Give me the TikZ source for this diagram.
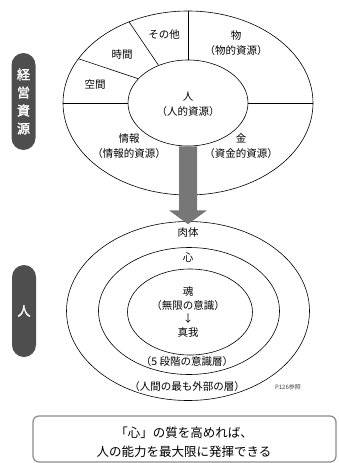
\documentclass[tikz,border=0pt]{standalone}
\usepackage{fontspec}
\setmainfont{Noto Sans CJK JP}
\newfontfamily\jpbold{Noto Sans CJK JP}[FakeBold=2]
\usetikzlibrary{shapes.geometric,calc}
\definecolor{pillgray}{HTML}{4E4E4E}
\definecolor{arrowgray}{HTML}{777777}
\definecolor{boxgray}{HTML}{8A8A8A}
\begin{document}
\begin{tikzpicture}[x=1pt,y=-1pt,
  ring/.style={draw=black, line width=0.6pt, ellipse, inner sep=0pt},
  divline/.style={draw=black, line width=0.6pt},
  lbl/.style={font=\fontsize{10.5}{15}\selectfont, align=center, inner sep=0pt},
  lblb/.style={font=\fontsize{10.5}{13.7}\selectfont, align=center, inner sep=0pt},
  pill/.style={fill=pillgray, rounded corners=12pt, inner sep=0pt, minimum width=24pt},
  pilltext/.style={text=white, font=\jpbold\fontsize{13}{18}\selectfont, align=center, inner sep=0pt},
  msgbox/.style={draw=boxgray, line width=1.2pt, rounded corners=6pt, minimum width=303pt, minimum height=46pt, inner sep=0pt}]
\useasboundingbox (0,0) rectangle (338,463);

% ---- top: management resources ----
\node[ring, minimum width=250pt, minimum height=184pt] (outerT) at (188,103) {};
\node[ring, minimum width=120pt, minimum height=86pt] (innerT) at (188,103) {};
\draw[divline] (outerT.north) -- (innerT.north);
\draw[divline] (outerT.126) -- (innerT.128);
\draw[divline] (outerT.158) -- (innerT.154);
\draw[divline] (outerT.west) -- (innerT.west);
\draw[divline] (outerT.east) -- (innerT.east);

\node[lbl] (sonota) at (164,35) {その他};
\node[lbl] (jikan) at (122,55) {時間};
\node[lbl] (kukan) at (95,85) {空間};
\node[lbl] (mono) at (236,43) {物\\（物的資源）};
\node[lbl] (hito) at (188,104) {人\\（人的資源）};
\node[lbl] (joho) at (129,146) {情報\\（情報的資源）};
\node[lbl] (kane) at (241,146) {金\\（資金的資源）};

\node[pill, minimum height=97pt] (pill1) at (23.5,101.5) {};
\node[pilltext] (pill1t) at (pill1.center) {経\\営\\資\\源};

% ---- bottom: person ----
\node[ring, minimum width=243pt, minimum height=179pt] (outerB) at (188,311) {};
\node[ring, minimum width=181pt, minimum height=127pt] (middleB) at (189,311) {};
\node[ring, minimum width=125pt, minimum height=86pt] (innerB) at (190,312) {};

% arrow
\fill[arrowgray] ($(innerT.south)+(-9,0)$) -- ($(innerT.south)+(-9,64)$)
  -- ($(innerT.south)+(-19,64)$) -- ($(outerB.north)+(0,3)$)
  -- ($(innerT.south)+(19,64)$) -- ($(innerT.south)+(9,64)$)
  -- ($(innerT.south)+(9,0)$) -- cycle;

\node[lbl] (nikutai) at (188,233) {肉体};
\node[lbl] (kokoro) at (188,257) {心};
\node[lblb] (tamashii) at (188,312) {魂\\（無限の意識）\\↓\\真我};
\node[lbl] (dankai) at (187,362) {（5 段階の意識層）};
\node[lbl] (gaibu) at (187,387) {（人間の最も外部の層）};
\node[font=\fontsize{6}{7}\selectfont, inner sep=0pt, text=black!75] (ref) at (288,387) {P126参照};

\node[pill, minimum height=92pt] (pill2) at (24,311) {};
\node[pilltext] (pill2t) at (pill2.center) {人};

% ---- message box ----
\node[msgbox] (box) at (184.5,439) {};
\node[font=\fontsize{12.5}{19}\selectfont, align=center, inner sep=0pt] (boxt) at (184,442) {「心」の質を高めれば、\\人の能力を最大限に発揮できる};
\end{tikzpicture}
\end{document}
